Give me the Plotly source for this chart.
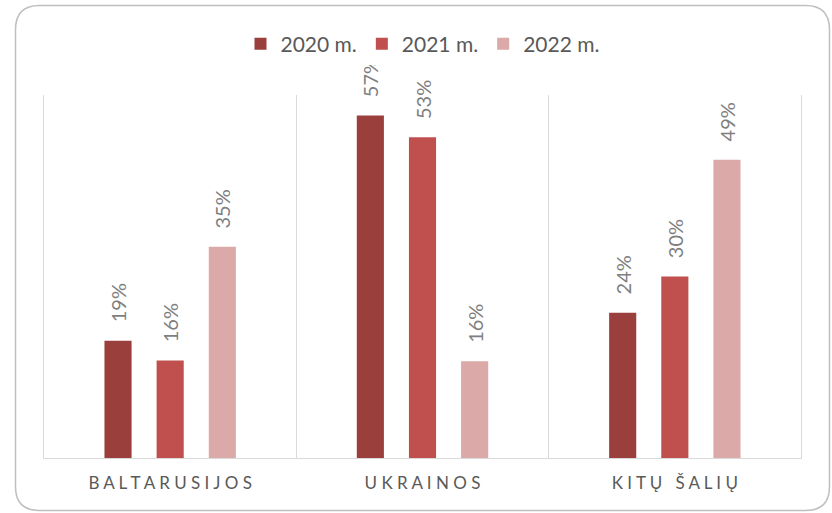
import plotly.graph_objects as go

categories = ["B A L T A R U S I J O S", "U K R A I N O S", "K I T Ų   Š A L I Ų"]
years = ["2020 m.", "2021 m.", "2022 m."]
values_2020 = [19.4, 56.6, 24.0]
values_2021 = [16.1, 53.0, 30.0]
values_2022 = [34.9, 16.0, 49.3]
colors = ["#9B3F3D", "#C0504D", "#DAA9A8"]

W, H = 832, 513
L, R, T, B = 44, 31, 95, 55

fig = go.Figure()
for name, vals, col in zip(years, [values_2020, values_2021, values_2022], colors):
    fig.add_trace(go.Bar(
        x=categories, y=vals, name=name,
        marker=dict(color=col, line=dict(width=0)),
        texttemplate="\u00a0\u00a0\u00a0%{y:.0f}%",
        textposition="outside", textangle=-90, constraintext="none",
        cliponaxis=False,
        textfont=dict(family="Lato", size=20, color="#7F7F7F"),
        hoverinfo="skip",
    ))

# rounded border (paper coordinates)
pw, ph = W - L - R, H - T - B
def px(x): return (x - L) / pw
def py(y): return (H - B - y) / ph
x0, x1, y0, y1, r = 15.5, 829.5, 5.5, 510.5, 24
path = (
    f"M{px(x0+r)},{py(y0)} L{px(x1-r)},{py(y0)} Q{px(x1)},{py(y0)} {px(x1)},{py(y0+r)} "
    f"L{px(x1)},{py(y1-r)} Q{px(x1)},{py(y1)} {px(x1-r)},{py(y1)} "
    f"L{px(x0+r)},{py(y1)} Q{px(x0)},{py(y1)} {px(x0)},{py(y1-r)} "
    f"L{px(x0)},{py(y0+r)} Q{px(x0)},{py(y0)} {px(x0+r)},{py(y0)} Z"
)

fig.update_layout(
    width=W, height=H,
    margin=dict(l=L, r=R, t=T, b=B),
    paper_bgcolor="white", plot_bgcolor="white",
    barmode="group", bargap=0.38, bargroupgap=0.48,
    font=dict(family="Lato", color="#595959"),
    showlegend=True,
    legend=dict(orientation="h", x=0.5, xanchor="center", y=py(44), yanchor="middle",
                font=dict(family="Lato", size=21, color="#595959"),
                itemclick=False, itemdoubleclick=False, traceorder="normal"),
    xaxis=dict(showgrid=True, gridcolor="#D9D9D9", gridwidth=1, tickson="boundaries",
               showline=True, linecolor="#D9D9D9", linewidth=1, ticks="",
               tickfont=dict(family="Lato", size=17, color="#595959"),
               ticklabelstandoff=10, range=[-0.5, 2.5], fixedrange=True),
    yaxis=dict(range=[0, 60], showticklabels=False, ticks="", showgrid=False,
               zeroline=False, showline=True, mirror=True, linecolor="#D9D9D9",
               linewidth=1, fixedrange=True),
    shapes=[dict(type="path", xref="paper", yref="paper", path=path,
                 line=dict(color="#BFBFBF", width=1.5), fillcolor="rgba(0,0,0,0)")],
)

fig.write_html("out.html", config={"displayModeBar": False},
               post_script="document.body.style.margin='0';document.body.style.overflow='hidden';")
